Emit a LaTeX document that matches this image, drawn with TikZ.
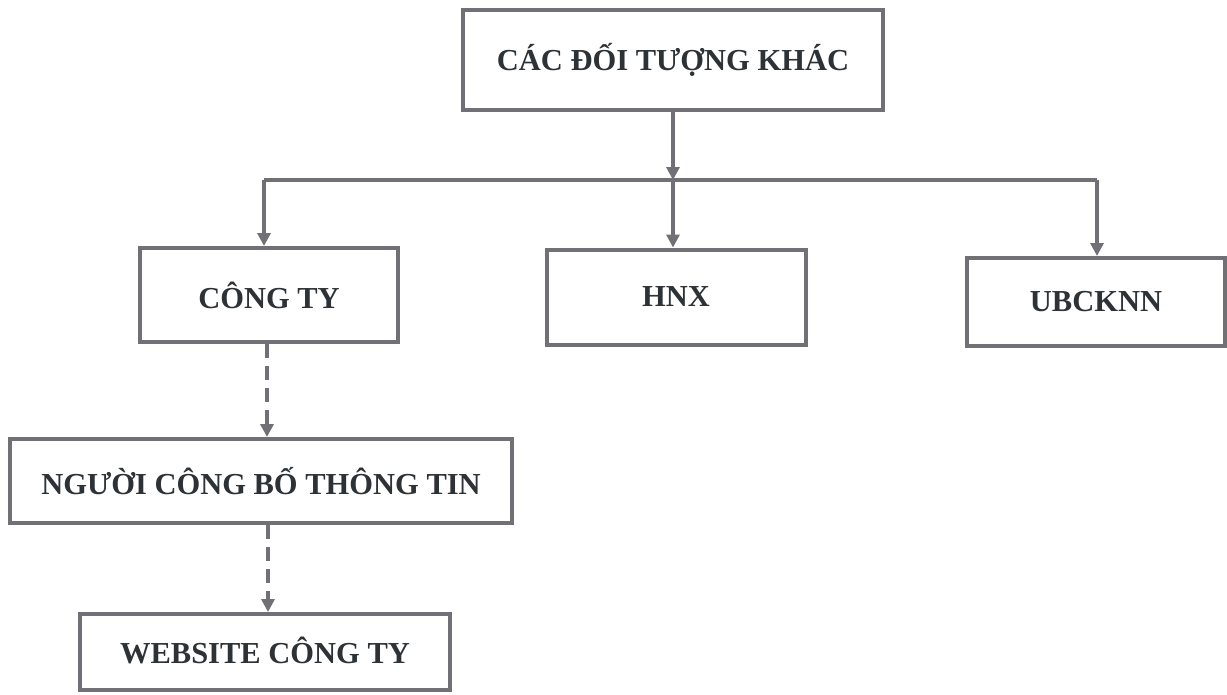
\documentclass[tikz,border=0pt]{standalone}
\usepackage{fontspec}
\setmainfont{Liberation Serif}
\usetikzlibrary{arrows.meta}
\definecolor{linegray}{RGB}{112,112,118}
\definecolor{textgray}{RGB}{45,50,55}
\tikzset{
  box/.style={draw=linegray, line width=4pt, fill=white, inner sep=0pt,
    font=\bfseries\fontsize{30.5}{33}\selectfont, text=textgray, anchor=center},
  conn/.style={draw=linegray, line width=3.5pt},
  arr/.style={conn, -{Triangle[length=13pt,width=13pt]}},
  darr/.style={arr, dash pattern=on 14pt off 8pt},
}
\begin{document}
\begin{tikzpicture}[x=1pt,y=-1pt]
\useasboundingbox (0,0) rectangle (1227,694);
\node[box, minimum width=420pt, minimum height=100pt] (top) at (673,60) {CÁC ĐỐI TƯỢNG KHÁC};
\node[box, minimum width=258pt, minimum height=94pt] (cty) at (269,295) {CÔNG TY};
\node[box, minimum width=259pt, minimum height=95pt] (hnx) at (676,297) {HNX};
\node[box, minimum width=258pt, minimum height=88pt] (ub) at (1096,302) {UBCKNN};
\node[box, minimum width=502pt, minimum height=84pt] (ng) at (261,481) {NGƯỜI CÔNG BỐ THÔNG TIN};
\node[box, minimum width=370pt, minimum height=76pt] (web) at (265,652) {\raisebox{4pt}{WEBSITE CÔNG TY}};
\coordinate (jM) at (673,180);
\coordinate (jL) at (264,180);
\coordinate (jR) at (1097,180);
\draw[arr] (top.south) -- (jM);
\draw[conn] (jL) -- (jR);
\draw[arr] (jL) -- (jL |- cty.north);
\draw[arr] (jM) -- (jM |- hnx.north);
\draw[arr] (jR) -- (jR |- ub.north);
\draw[darr] (cty.south -| 267,0) -- (267,0 |- ng.north);
\draw[darr] (ng.south -| 268,0) -- (268,0 |- web.north);
\end{tikzpicture}
\end{document}
